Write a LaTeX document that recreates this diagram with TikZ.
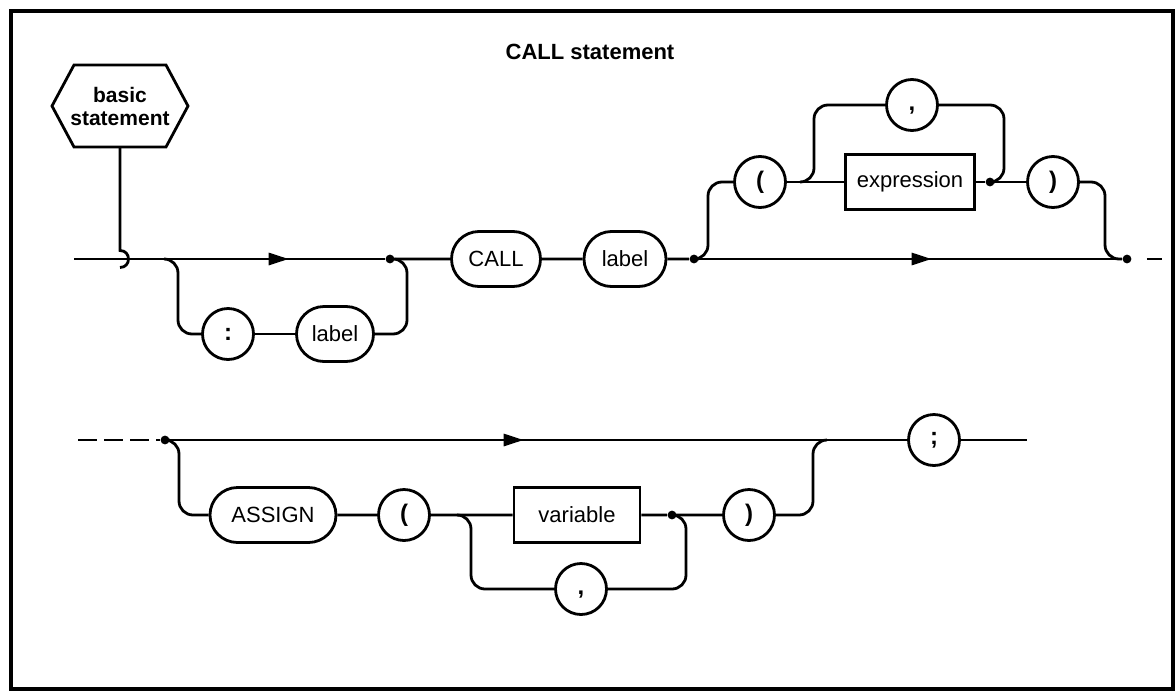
\documentclass[tikz,border=0pt]{standalone}
\usepackage{fontspec}
\setmainfont{Liberation Sans}
\usetikzlibrary{shapes.misc,arrows.meta,decorations.markings}

\tikzset{
  rail/.style={line width=1.4pt},
  kw/.style={draw, rounded rectangle, line width=1.4pt, minimum height=27.5pt, inner xsep=2pt, font=\fontsize{11}{13}\selectfont},
  sym/.style={draw, circle, line width=1.4pt, minimum size=25.5pt, inner sep=0pt, font=\bfseries\fontsize{12}{14}\selectfont},
  nt/.style={draw, rectangle, line width=1.4pt, minimum height=27.5pt, font=\fontsize{11}{13}\selectfont},
  jdot/.style={circle, fill, inner sep=0pt, minimum size=4.4pt},
  arrowat/.style={postaction={decorate}, decoration={markings, mark=at position #1 with {\arrow{Triangle[length=10pt,width=6pt]}}}}
}
\newcommand{\lowcomma}{\raisebox{-2.5pt}[0pt][0pt]{,}}

\begin{document}
\begin{tikzpicture}[x=0.5pt, y=0.5pt]
	\useasboundingbox (0,0) rectangle (1176,-696);
	\draw[line width=1.7pt] (11,-11) rectangle (1173,-689);
	\node[font=\bfseries\fontsize{11}{13}\selectfont] (title) at (590,-52) {CALL statement};

	\node[font=\bfseries\fontsize{10.5}{11.5}\selectfont, align=center] (bs) at (120,-106) {basic\\statement};
	\draw[line width=1.4pt] (bs.center) ++(-68,0) -- ++(22,41) -- ++(92,0) -- ++(22,-41) -- ++(-22,-41) -- ++(-92,0) -- cycle;
	\coordinate (bsfoot) at (120,-147);
	\coordinate (hook) at (120,-267.5);
	\draw[rail] (bsfoot) -- (120,-250.5) .. controls (131.3,-250.5) and (131.3,-267.5) .. (hook);

	\coordinate (in1) at (74,-259);
	\coordinate (br1) at (164,-259);
	\node[jdot] (d1) at (390,-259) {};
	\draw[rail,arrowat=0.69] (in1) -- (d1);
	\node[sym] (colon) at (228,-334) {:};
	\node[kw, minimum width=42.5pt] (lab1) at (335,-334) {label};
	\draw[rail,rounded corners=7pt] (br1) -- (178,-259) -- (178,-334) -- (colon);
	\draw[rail] (colon) -- (lab1);
	\draw[rail,rounded corners=7pt] (lab1) -- (407,-334) -- (407,-259) -- (d1);

	\node[kw, minimum width=48.5pt] (call) at (496,-259) {CALL};
	\node[kw, minimum width=45pt] (lab2) at (625,-259) {label};
	\node[jdot] (d2) at (694,-259) {};
	\draw[rail] (d1) -- (call) -- (lab2) -- (d2);

	\node[sym] (lp1) at (760,-182) {(};
	\node[nt, minimum width=64.5pt] (expr) at (910,-182) {expression};
	\node[sym] (cm1) at (912,-105) {\lowcomma};
	\node[jdot] (d3) at (990,-182) {};
	\node[sym] (rp1) at (1053,-182) {)};
	\node[jdot] (d4) at (1127,-259) {};
	\coordinate (br2) at (800,-182);
	\coordinate (cont1) at (1162,-259);
	\draw[rail,rounded corners=7pt] (d2) -- (708,-259) -- (708,-182) -- (lp1);
	\draw[rail] (lp1) -- (expr) -- (d3) -- (rp1);
	\draw[rail,rounded corners=7pt] (br2) -- (814,-182) -- (814,-105) -- (cm1) -- (1004,-105) -- (1004,-182) -- (d3);
	\draw[rail,rounded corners=7pt] (rp1) -- (1105,-182) -- (1105,-259) -- (d4);
	\draw[rail,arrowat=0.55] (d2) -- (d4);
	\draw[rail,dash pattern=on 10pt off 7.5pt,dash phase=10pt] (d4) -- (cont1);

	\coordinate (cont2) at (78,-440);
	\node[jdot] (d5) at (165,-440) {};
	\node[sym] (semi) at (934,-440) {;};
	\coordinate (out) at (1027,-440);
	\draw[rail,dash pattern=on 9.5pt off 3.5pt] (cont2) -- (d5);
	\draw[rail,arrowat=0.48] (d5) -- (semi);
	\draw[rail] (semi) -- (out);

	\node[kw, minimum width=67pt] (assign) at (273,-515) {ASSIGN};
	\node[sym] (lp2) at (404,-515) {(};
	\node[nt, minimum width=63pt] (var) at (577,-515) {variable};
	\node[sym] (cm2) at (581,-589) {\lowcomma};
	\node[jdot] (d6) at (672,-515) {};
	\node[sym] (rp2) at (749,-515) {)};
	\coordinate (br3) at (457,-515);
	\coordinate (mrg) at (827,-440);
	\draw[rail,rounded corners=7pt] (d5) -- (179,-440) -- (179,-515) -- (assign);
	\draw[rail] (assign) -- (lp2) -- (var) -- (d6) -- (rp2);
	\draw[rail,rounded corners=7pt] (br3) -- (471,-515) -- (471,-589) -- (cm2) -- (686,-589) -- (686,-515) -- (d6);
	\draw[rail,rounded corners=7pt] (rp2) -- (813,-515) -- (813,-440) -- (mrg);
\end{tikzpicture}
\end{document}
